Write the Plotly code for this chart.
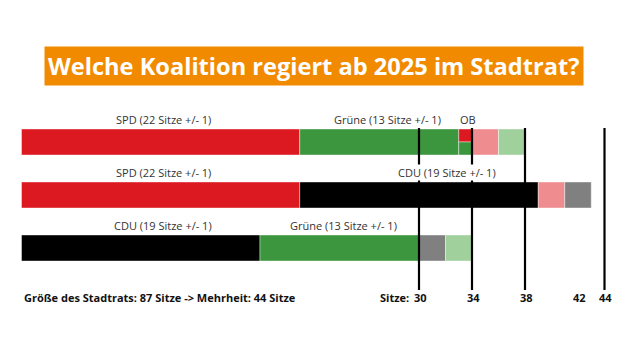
import plotly.graph_objects as go

# ---------------- data ----------------
BARS = ["SPD + Grüne + OB", "SPD + CDU", "CDU + Grüne"]
SEG_BAR = [0, 0, 0, 0, 0, 1, 1, 1, 1, 2, 2, 2, 2]
SEG_PARTY = ["SPD", "Grüne", "OB", "SPD", "Grüne",
             "SPD", "CDU", "SPD", "CDU",
             "CDU", "Grüne", "CDU", "Grüne"]
SEG_KIND = ["fest", "fest", "fest", "spanne", "spanne",
            "fest", "fest", "spanne", "spanne",
            "fest", "fest", "spanne", "spanne"]
SEG_SEATS = [21, 12, 1, 2, 2,
             21, 18, 2, 2,
             18, 12, 2, 2]

LABEL_BAR = [0, 0, 0, 1, 1, 2, 2]
LABEL_TEXT = ["SPD (22 Sitze +/- 1)", "Grüne (13 Sitze +/- 1)", "OB",
              "SPD (22 Sitze +/- 1)", "CDU (19 Sitze +/- 1)",
              "CDU (19 Sitze +/- 1)", "Grüne (13 Sitze +/- 1)"]
LABEL_X = [10.7, 27.6, 33.7, 10.7, 32.1, 10.7, 24.3]

LINES = [30, 34, 38, 44]
TICKS = [30, 34, 38, 42, 44]
TICK_TEXT = ["30", "34", "38", "42", "44"]

TITLE = "Welche Koalition regiert ab 2025 im Stadtrat?"
FOOTER = "Größe des Stadtrats: 87 Sitze -> Mehrheit: 44 Sitze"

# ---------------- styles ----------------
COL_FEST = {"SPD": "#dc1820", "Grüne": "#3b963d", "CDU": "#000000"}
COL_SPANNE = {"SPD": "#ef8c90", "Grüne": "#a0d09b", "CDU": "#808080"}

PX = 13.25          # pixels per seat
X0 = 21.5           # pixel of seat 0
UNIT = 53.0         # pixels per bar step
Y_TOP = 3 + 142 / UNIT
BAR_W = 26 / UNIT
FONT = "Open Sans"

def ypx(p):
    return Y_TOP - p / UNIT

bar_y = [3 - i for i in range(len(BARS))]

fig = go.Figure()

cum = [0] * len(BARS)
for b, party, kind, seats in zip(SEG_BAR, SEG_PARTY, SEG_KIND, SEG_SEATS):
    base = cum[b]
    cum[b] += seats
    y = bar_y[b]
    if party == "OB":
        for col, off in (("#dc1820", 0.0), ("#3b963d", -BAR_W / 2)):
            fig.add_trace(go.Bar(
                y=[y], x=[seats], base=[base], orientation="h",
                width=BAR_W / 2, offset=off, marker_color=col,
                marker_line=dict(color="rgba(255,255,255,0.7)", width=0.6),
                showlegend=False, hoverinfo="skip"))
        continue
    col = COL_FEST[party] if kind == "fest" else COL_SPANNE[party]
    fig.add_trace(go.Bar(
        y=[y], x=[seats], base=[base], orientation="h",
        width=BAR_W, marker_color=col,
        marker_line=dict(color="rgba(255,255,255,0.7)", width=0.6),
        showlegend=False, hoverinfo="skip"))

for t in LINES:
    fig.add_trace(go.Scatter(
        x=[t, t], y=[ypx(128), ypx(290)], mode="lines",
        line=dict(color="black", width=2.2),
        showlegend=False, hoverinfo="skip"))

ann = []
for b, txt, x in zip(LABEL_BAR, LABEL_TEXT, LABEL_X):
    ann.append(dict(x=x, y=bar_y[b] + 23 / UNIT, xref="x", yref="y",
                    text=txt, showarrow=False, bgcolor="white", borderpad=0,
                    font=dict(family=FONT, size=11, color="#333333")))

for t, tt in zip(TICKS, TICK_TEXT):
    ann.append(dict(x=t, y=ypx(297), xref="x", yref="y", text="<b>%s</b>" % tt,
                    showarrow=False, xshift=1,
                    font=dict(family=FONT, size=11, color="#111111")))
ann.append(dict(x=TICKS[0], y=ypx(297), xref="x", yref="y", text="<b>Sitze:</b>",
                showarrow=False, xanchor="right", xshift=-8,
                font=dict(family=FONT, size=11, color="#111111")))
ann.append(dict(x=0, y=ypx(297), xref="x", yref="y", text="<b>%s</b>" % FOOTER,
                showarrow=False, xanchor="left",
                font=dict(family=FONT, size=11, color="#111111")))
ann.append(dict(x=314 / 640, y=ypx(66), xref="paper", yref="y",
                text="<b>%s</b>" % TITLE, showarrow=False,
                bgcolor="#f28a00", borderpad=3,
                font=dict(family=FONT, size=23.6, color="white")))

fig.update_layout(
    width=640, height=353,
    margin=dict(l=0, r=0, t=0, b=0),
    paper_bgcolor="white", plot_bgcolor="white",
    barmode="overlay",
    xaxis=dict(range=[-X0 / PX, (640 - X0) / PX], visible=False, fixedrange=True),
    yaxis=dict(range=[Y_TOP - 353 / UNIT, Y_TOP], visible=False, fixedrange=True),
    annotations=ann,
)

fig.write_html("out.html")
